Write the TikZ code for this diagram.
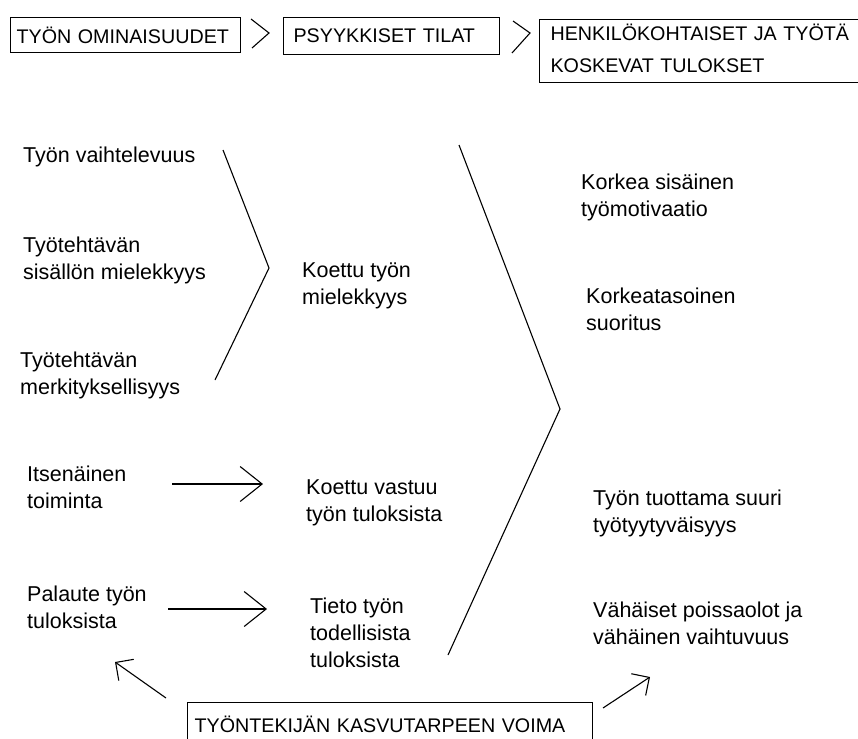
\documentclass[tikz,border=0pt]{standalone}
\usepackage{fontspec}
\setmainfont{Liberation Sans}
\usetikzlibrary{arrows.meta}
\begin{document}
\begin{tikzpicture}[x=1pt,y=-1pt,
  hdr/.style={draw, line width=1.2pt, font=\fontsize{19.7}{32}\selectfont, anchor=north west, align=left, inner ysep=0pt},
  body/.style={font=\fontsize{21.5}{27}\selectfont, anchor=base west, align=left, inner sep=0pt},
  ln/.style={line width=1.1pt, line join=miter},
  arr/.style={line width=1.1pt, -{Straight Barb[length=22pt,width=35pt]}},
  sarr/.style={line width=1.1pt, -{Straight Barb[length=13pt,width=26pt]}}
]
\useasboundingbox (0,0) rectangle (858,738);
\fill[white] (0,0) rectangle (858,738);
\clip (0,0) rectangle (858,738);

% header boxes
\node[hdr, inner xsep=6pt, text width=218pt, minimum height=35pt] (omin) at (10,17) {TYÖN OMINAISUUDET};
\node[hdr, inner xsep=10pt, text width=196pt, minimum height=37pt] (psyk) at (283,17) {PSYYKKISET TILAT};
\node[hdr, inner xsep=11pt, text width=330pt, minimum height=63pt] (tulo) at (539,19) {HENKILÖKOHTAISET JA TYÖTÄ\\KOSKEVAT TULOKSET\rule[-6pt]{0pt}{0pt}};
\draw[ln] (251,19) -- (269,33) -- (252,48);
\draw[ln] (513,21) -- (530,33) -- (512,53);

% left column (positions are baselines of last lines)
\node[body] (vaiht) at (23,162) {Työn vaihtelevuus};
\node[body] (sis) at (23,279) {Työtehtävän\\sisällön mielekkyys};
\node[body] (merk) at (20,394) {Työtehtävän\\merkityksellisyys};
\node[body] (itse) at (27,508) {Itsenäinen\\toiminta};
\node[body] (pal) at (27,628) {Palaute työn\\tuloksista};

% middle column
\node[body] (kmiel) at (302,304) {Koettu työn\\mielekkyys};
\node[body] (kvast) at (306,521) {Koettu vastuu\\työn tuloksista};
\node[body] (tieto) at (310,667) {Tieto työn\\todellisista\\tuloksista};

% right column
\node[body] (motiv) at (581,216) {Korkea sisäinen\\työmotivaatio};
\node[body] (suor) at (586,330) {Korkeatasoinen\\suoritus};
\node[body] (tyyt) at (593,532) {Työn tuottama suuri\\työtyytyväisyys};
\node[body] (pois) at (593,644) {Vähäiset poissaolot ja\\vähäinen vaihtuvuus};

% brackets
\draw[ln] (223,150) -- (269,268) -- (215,380);
\draw[ln] (459,145) -- (560,409) -- (448,655);

% bottom box
\node[hdr, inner xsep=7pt, text width=391pt, minimum height=44pt] (kasvu) at (187,702) {TYÖNTEKIJÄN KASVUTARPEEN VOIMA};

% arrows
\coordinate (a1s) at (172,484);
\coordinate (a1e) at (263,484);
\coordinate (a2s) at (168,609);
\coordinate (a2e) at (267,609);
\coordinate (a3s) at (166,698);
\coordinate (a3e) at (115,662);
\coordinate (a4s) at (603,708);
\coordinate (a4e) at (650,677);
\draw[arr] (a1s) -- (a1e);
\draw[arr] (a2s) -- (a2e);
\draw[sarr] (a3s) -- (a3e);
\draw[sarr] (a4s) -- (a4e);
\end{tikzpicture}
\end{document}
